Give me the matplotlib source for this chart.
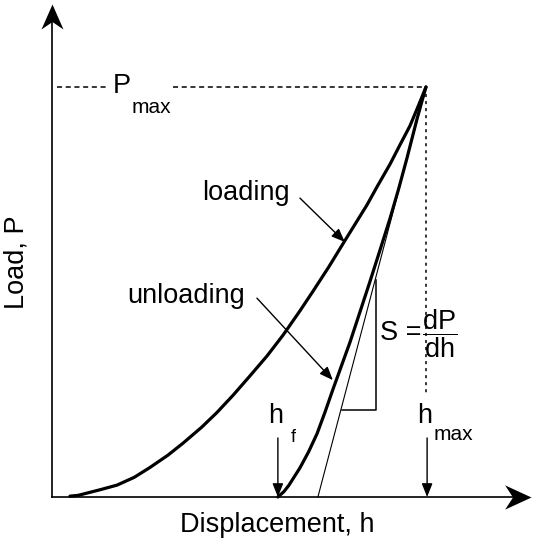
import matplotlib
matplotlib.use("Agg")
import matplotlib.pyplot as plt
from matplotlib.path import Path

plt.rcParams['font.family'] = ['Liberation Sans', 'DejaVu Sans']
plt.rcParams['mathtext.fontset'] = 'custom'
plt.rcParams['mathtext.rm'] = 'Liberation Sans'
plt.rcParams['mathtext.it'] = 'Liberation Sans'

# displacement h / h_max and load P / P_max
load_h = [0.048, 0.070, 0.100, 0.130, 0.174, 0.220, 0.262, 0.310, 0.350, 0.400,
          0.441, 0.485, 0.529, 0.575, 0.618, 0.663, 0.698, 0.740, 0.783, 0.842,
          0.870, 0.904, 0.930, 0.957, 0.980, 1.000]
load_P = [0.002, 0.004, 0.011, 0.018, 0.029, 0.048, 0.072, 0.102, 0.131, 0.170,
          0.206, 0.249, 0.295, 0.344, 0.395, 0.454, 0.502, 0.561, 0.625, 0.712,
          0.758, 0.812, 0.858, 0.905, 0.955, 1.000]

unload_h = [0.604, 0.620, 0.633, 0.663, 0.686, 0.709, 0.730, 0.751, 0.774, 0.797,
            0.823, 0.850, 0.877, 0.904, 0.927, 0.949, 0.976, 0.990, 1.000]
unload_P = [0.000, 0.013, 0.028, 0.071, 0.110, 0.155, 0.207, 0.262, 0.320, 0.378,
            0.450, 0.525, 0.602, 0.680, 0.752, 0.826, 0.922, 0.968, 1.000]

# contact stiffness tangent and its slope triangle
tangent_h = [0.711, 1.000]
tangent_P = [0.000, 1.000]
tri_h = [0.775, 0.866, 0.866]
tri_P = [0.212, 0.212, 0.529]

h_f = 0.604
h_max = 1.0
P_max = 1.0

fig = plt.figure(figsize=(5.38, 5.5), dpi=100)
ax = fig.add_axes([0, 0, 1, 1])
ax.set_xlim(-0.139, 1.2995)
ax.set_ylim(-0.1293, 1.2122)
ax.axis('off')

# axes with barbed arrow heads
x_tip = 1.281
y_tip = 1.202
ax.plot([0, x_tip - 0.02], [0, 0], color='black', lw=1.2)
ax.plot([0, 0], [0, y_tip - 0.02], color='black', lw=1.2)
head_right = Path([(0, 0), (-1, 0.46), (-0.7, 0), (-1, -0.46), (0, 0)],
                  [Path.MOVETO, Path.LINETO, Path.LINETO, Path.LINETO, Path.CLOSEPOLY])
head_up = Path([(0, 0), (-0.44, -1), (0, -0.7), (0.44, -1), (0, 0)],
               [Path.MOVETO, Path.LINETO, Path.LINETO, Path.LINETO, Path.CLOSEPOLY])
ax.plot([x_tip], [0], marker=head_right, markersize=38, color='black', mew=0)
ax.plot([0], [y_tip], marker=head_up, markersize=36, color='black', mew=0)

# curves
ax.plot(load_h, load_P, color='black', lw=2.3, solid_capstyle='round', solid_joinstyle='round')
ax.plot(unload_h, unload_P, color='black', lw=2.3, solid_capstyle='round', solid_joinstyle='round')
ax.plot(tangent_h, tangent_P, color='black', lw=0.8)
ax.plot(tri_h, tri_P, color='black', lw=1.1)

# P_max and h_max guide lines
ax.plot([0.013, 0.147], [P_max, P_max], color='black', lw=1.1, dashes=(3.3, 2.4))
ax.plot([0.324, h_max], [P_max, P_max], color='black', lw=1.1, dashes=(3.3, 2.4))
ax.plot([h_max, h_max], [P_max, 0.249], color='black', lw=1.1, dashes=(2.0, 2.6))

fs = 19.5
fs_sub = 15
ax.text(0.163, 0.985, 'P', fontsize=fs, ha='left', va='baseline')
ax.text(0.214, 0.937, 'max', fontsize=fs_sub, ha='left', va='baseline')

ax.text(0.401, 0.724, 'loading', fontsize=fs, ha='left', va='baseline')
ax.text(0.2005, 0.473, 'unloading', fontsize=fs, ha='left', va='baseline')

arrow_kw = dict(arrowstyle='-|>,head_length=0.45,head_width=0.18', color='black',
                lw=1.0, mutation_scale=18, shrinkA=0, shrinkB=0)
ax.annotate('', xy=(0.783, 0.622), xytext=(0.663, 0.729), arrowprops=arrow_kw)
ax.annotate('', xy=(0.751, 0.285), xytext=(0.548, 0.485), arrowprops=arrow_kw)

ax.text(0.578, 0.180, 'h', fontsize=fs, ha='left', va='baseline')
ax.text(0.638, 0.134, 'f', fontsize=fs_sub - 2, ha='left', va='baseline')
ax.annotate('', xy=(h_f, 0), xytext=(h_f, 0.144), arrowprops=arrow_kw)

ax.text(0.976, 0.180, 'h', fontsize=fs, ha='left', va='baseline')
ax.text(1.019, 0.139, 'max', fontsize=fs_sub, ha='left', va='baseline')
ax.annotate('', xy=(h_max + 0.003, 0), xytext=(h_max + 0.003, 0.144), arrowprops=arrow_kw)

ax.text(0.877, 0.383, 'S =', fontsize=fs, ha='left', va='baseline')
ax.text(0.990, 0.399, r'$\dfrac{\mathrm{dP}}{\mathrm{dh}}$', fontsize=fs,
        ha='left', va='center')

ax.text(-0.096, 0.573, 'Load, P', fontsize=fs, rotation=90, ha='center', va='center')
ax.text(0.603, -0.085, 'Displacement, h', fontsize=fs, ha='center', va='baseline')

fig.savefig('out.png', dpi=100)
